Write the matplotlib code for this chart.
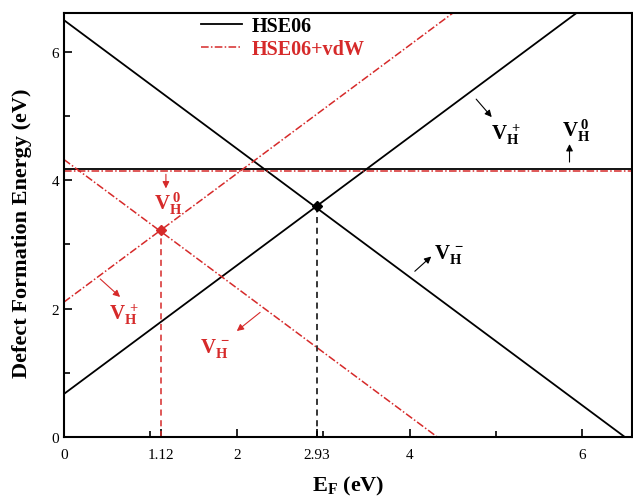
import matplotlib
matplotlib.use("Agg")
import matplotlib.pyplot as plt
import numpy as np

plt.rcParams['font.family'] = ['Liberation Serif', 'DejaVu Serif']
plt.rcParams['mathtext.fontset'] = 'custom'
plt.rcParams['mathtext.rm'] = 'Liberation Serif'
plt.rcParams['mathtext.bf'] = 'Liberation Serif:bold'
plt.rcParams['mathtext.it'] = 'Liberation Serif:italic'

# Data (E_F in eV, formation energy in eV)
ef_range = [0.0, 6.6]
hse_plus_intercept = 0.67    # V_H^+ : E = a + E_F
hse_minus_intercept = 6.49   # V_H^- : E = b - E_F
hse_neutral = 4.18
vdw_plus_intercept = 2.10
vdw_minus_intercept = 4.32
vdw_neutral = 4.14
hse_transition = (2.93, 3.60)
vdw_transition = (1.12, 3.22)
x_major = [0, 2, 4, 6]
x_extra = [1.12, 2.93]
y_major = [0, 2, 4, 6]

RED = '#d62a2a'
dashdot = (0, (5, 1.5, 1, 1.5))

fig = plt.figure(figsize=(6.33, 5.02), dpi=100)
ax = fig.add_axes([0.101, 0.1275, 0.897, 0.8445])

x = np.array(ef_range)
ax.plot(x, hse_plus_intercept + x, color='black', lw=1.3, label='HSE06')
ax.plot(x, hse_minus_intercept - x, color='black', lw=1.3)
ax.plot(x, [hse_neutral] * 2, color='black', lw=1.3)
ax.plot(x, vdw_plus_intercept + x, color=RED, lw=1.1, ls=dashdot, label='HSE06+vdW')
ax.plot(x, vdw_minus_intercept - x, color=RED, lw=1.1, ls=dashdot)
ax.plot(x, [vdw_neutral] * 2, color=RED, lw=1.1, ls=dashdot)

# transition levels
ax.plot([hse_transition[0]] * 2, [0, hse_transition[1]], color='black', lw=1.1, ls=(0, (4, 3)))
ax.plot([vdw_transition[0]] * 2, [0, vdw_transition[1]], color=RED, lw=1.1, ls=(0, (4, 3)))
ax.plot(*hse_transition, marker='D', color='black', ms=5)
ax.plot(*vdw_transition, marker='D', color=RED, ms=5.5)

ax.set_xlim(0, 6.57)
ax.set_ylim(0, 6.6)
ax.set_xticks(x_major + x_extra)
ax.set_xticklabels(['0', '2', '4', '6', '1.12', '2.93'])
ax.set_xticks([1, 3, 5], minor=True)
ax.set_yticks(y_major)
ax.set_yticks([1, 3, 5], minor=True)
ax.tick_params(which='both', direction='in', labelsize=11, width=1.2)
ax.tick_params(which='major', length=6)
ax.tick_params(which='minor', length=4)
ax.tick_params(axis='x', pad=8)
for s in ax.spines.values():
    s.set_linewidth(1.5)

ax.set_xlabel(r'$\mathbf{E_F}$ (eV)', fontsize=16, fontweight='bold', labelpad=9)
ax.set_ylabel('Defect Formation Energy (eV)', fontsize=16, fontweight='bold')
ax.yaxis.set_label_coords(-0.057, 0.483)

leg = ax.legend(loc='upper left', bbox_to_anchor=(0.21, 1.035), frameon=False,
                prop={'weight': 'bold', 'size': 14.5}, handlelength=2.0,
                labelspacing=0.15, handletextpad=0.5)
for t, c in zip(leg.get_texts(), ['black', RED]):
    t.set_color(c)

def label(txt, xy_text, tail, head, color):
    ax.text(*xy_text, txt, color=color, fontsize=15, ha='center', va='center')
    ax.annotate('', xy=head, xytext=tail,
                arrowprops=dict(arrowstyle='-|>', color=color, lw=0.8,
                                mutation_scale=10, shrinkA=0, shrinkB=0))

label(r'$\mathbf{V_H^{\ +}}$', (5.12, 4.72), (4.77, 5.26), (4.95, 4.98), 'black')
label(r'$\mathbf{V_H^{\ 0}}$', (5.93, 4.78), (5.85, 4.28), (5.85, 4.56), 'black')
label(r'$\mathbf{V_H^{\ -}}$', (4.46, 2.86), (4.06, 2.58), (4.25, 2.81), 'black')
label(r'$\mathbf{V_H^{\ 0}}$', (1.21, 3.64), (1.18, 4.09), (1.18, 3.87), RED)
label(r'$\mathbf{V_H^{\ +}}$', (0.70, 1.92), (0.42, 2.46), (0.65, 2.18), RED)
label(r'$\mathbf{V_H^{\ -}}$', (1.75, 1.40), (2.27, 1.94), (2.00, 1.65), RED)

fig.savefig('out.png', dpi=100)
